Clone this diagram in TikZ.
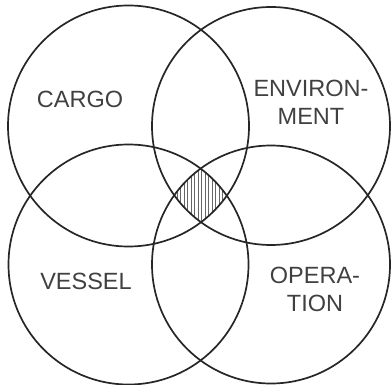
\documentclass[tikz,border=0pt]{standalone}
\usepackage{fontspec}
\setmainfont{Liberation Sans}
\begin{document}
\begin{tikzpicture}[x=1pt,y=-1pt,
  ring/.style={draw=black!85,line width=1.7pt},
  hatch/.style={draw=black!60,line width=0.5pt},
  lbl/.style={font=\fontsize{23.5}{27.5}\selectfont,text=black!75,align=center,inner sep=0pt}]
\useasboundingbox (0,0) rectangle (391,385);
\coordinate (tl) at (128.5,126);
\coordinate (tr) at (271,126);
\coordinate (bl) at (128.5,264.5);
\coordinate (br) at (271,264.5);
\begin{scope}
  \clip (tl) circle[radius=120.5];
  \clip (tr) circle[radius=119];
  \clip (bl) circle[radius=120];
  \clip (br) circle[radius=119];
  \foreach \x in {170,173.5,...,232} {\draw[hatch] (\x,160) -- (\x,230);}
\end{scope}
\draw[ring] (tl) circle[radius=120.5];
\draw[ring] (tr) circle[radius=119];
\draw[ring] (bl) circle[radius=120];
\draw[ring] (br) circle[radius=119];
\node[lbl] (cargo) at (80,99) {CARGO};
\node[lbl] (env) at (311,102.5) {ENVIRON-\\MENT};
\node[lbl] (vessel) at (86,281) {VESSEL};
\node[lbl] (oper) at (315,289.5) {OPERA-\\TION};
\end{tikzpicture}
\end{document}
